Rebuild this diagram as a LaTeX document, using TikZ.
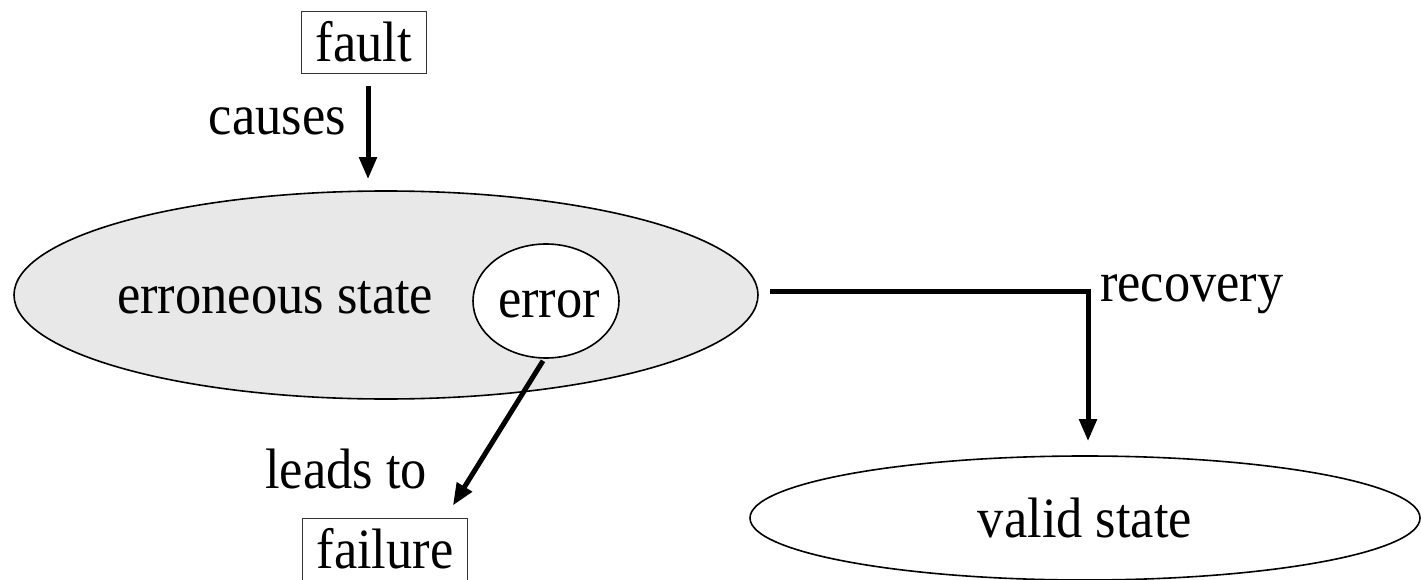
\documentclass[tikz,border=0pt]{standalone}
\usepackage{fontspec}
\setmainfont{Liberation Serif}[FakeStretch=0.92]
\usetikzlibrary{arrows.meta,shapes.geometric}
\definecolor{stategray}{HTML}{E8E8E8}
\tikzset{
  lbl/.style={font=\fontsize{57}{64}\selectfont, inner sep=0pt},
  boxnode/.style={lbl, draw=black!80, line width=1pt, inner xsep=14pt, inner ysep=10pt, text height=40pt, text depth=2pt},
  statebig/.style={ellipse, draw=black, line width=1.6pt, inner sep=0pt},
  arr/.style={line width=5pt, -{Triangle[length=22pt,width=17pt]}},
}
\begin{document}
\begin{tikzpicture}[x=1pt,y=-1pt]
\useasboundingbox (0,0) rectangle (1421,580);
% nodes
\node[boxnode, anchor=base] (fault) at (364,62) {fault};
\node[statebig, fill=stategray, minimum width=744pt, minimum height=208pt] (big) at (386,295) {};
\node[lbl, anchor=base west] (erst) at (117,313) {erroneous state};
\node[statebig, fill=white, minimum width=146pt, minimum height=114pt] (err) at (546,301) {};
\node[lbl, anchor=base] (errtxt) at (549,317) {error};
\node[boxnode, anchor=base] (fail) at (385,568) {failure};
\node[statebig, fill=white, minimum width=670pt, minimum height=124pt] (valid) at (1085,518) {};
\node[lbl, anchor=base] (validtxt) at (1085,537) {valid state};
% labels
\node[lbl, anchor=base east] (causes) at (346,135) {causes};
\node[lbl, anchor=base east] (leads) at (427,488) {leads to};
\node[lbl, anchor=base west] (recov) at (1100,301) {recovery};
% connectors
\draw[arr, shorten <=12pt, shorten >=11pt] ([xshift=4pt]fault.south) -- ([xshift=4pt]fault.south |- big.north);
\draw[arr] ([xshift=-3pt,yshift=-2pt]err.south) -- ([xshift=-15pt,yshift=12pt]fail.north east);
\draw[arr, line join=miter] ([xshift=11pt,yshift=4pt]big.east) -| ([xshift=3pt,yshift=14pt]valid.north);
\end{tikzpicture}
\end{document}
